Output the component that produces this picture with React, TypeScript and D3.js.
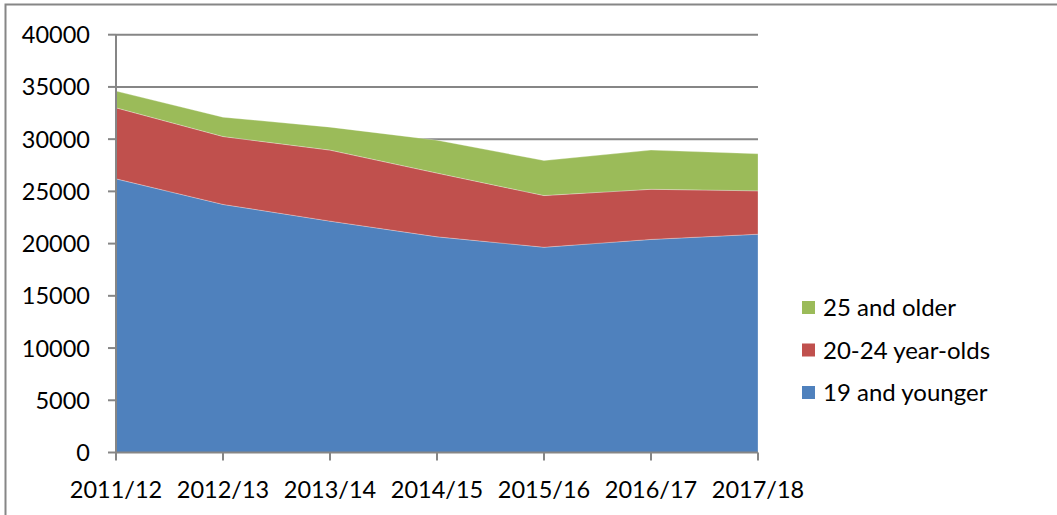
import React, { useEffect, useRef } from 'react'
import * as d3 from 'd3'

// data
const years = ['2011/12', '2012/13', '2013/14', '2014/15', '2015/16', '2016/17', '2017/18']
const young = [26200, 23750, 22150, 20650, 19650, 20400, 20900]
const twenties = [6800, 6500, 6800, 6100, 4950, 4800, 4150]
const older = [1600, 1850, 2200, 3150, 3350, 3750, 3550]
const seriesNames = ['19 and younger', '20-24 year-olds', '25 and older']
const seriesColors = ['#4F81BD', '#C0504D', '#9BBB59']
const yTicks = [0, 5000, 10000, 15000, 20000, 25000, 30000, 35000, 40000]

const W = 1057, H = 515
const FONT = 'Lato, "Open Sans", sans-serif'

const App = () => {
  const ref = useRef<SVGSVGElement>(null)

  useEffect(() => {
    const svg = d3.select(ref.current)
    svg.selectAll('*').remove()

    const x = d3.scalePoint<string>().domain(years).range([116, 758])
    const y = d3.scaleLinear().domain([0, 40000]).range([452.5, 34.7])

    // outer chart border (only top + left visible in reference)
    svg.append('rect')
      .attr('x', 5.5).attr('y', 4.5)
      .attr('width', W + 20).attr('height', H + 20)
      .attr('fill', 'white').attr('stroke', '#868686').attr('stroke-width', 2)

    // gridlines
    svg.append('g').selectAll('line')
      .data(yTicks.filter(t => t > 0))
      .enter().append('line')
      .attr('x1', 116).attr('x2', 758)
      .attr('y1', d => y(d)).attr('y2', d => y(d))
      .attr('stroke', '#868686').attr('stroke-width', 2)

    const rows = years.map((yr, i) => ({ year: yr, s0: young[i], s1: twenties[i], s2: older[i] }))
    const stack = d3.stack<any>().keys(['s0', 's1', 's2'])
    const layers = stack(rows)

    const area = d3.area<any>()
      .x(d => x(d.data.year) as number)
      .y0(d => y(d[0]))
      .y1(d => y(d[1]))

    svg.append('g').selectAll('path')
      .data(layers)
      .enter().append('path')
      .attr('d', d => area(d))
      .attr('fill', (d, i) => seriesColors[i])
      .attr('stroke', 'rgba(255,255,255,0.35)')
      .attr('stroke-width', 0.8)

    // y axis
    const yAxis = svg.append('g')
    yAxis.append('line')
      .attr('x1', 116).attr('x2', 116).attr('y1', y(40000)).attr('y2', y(0))
      .attr('stroke', '#868686').attr('stroke-width', 2)
    yAxis.selectAll('line.tick')
      .data(yTicks).enter().append('line')
      .attr('class', 'tick')
      .attr('x1', 108).attr('x2', 116)
      .attr('y1', d => y(d)).attr('y2', d => y(d))
      .attr('stroke', '#868686').attr('stroke-width', 2)
    yAxis.selectAll('text')
      .data(yTicks).enter().append('text')
      .attr('x', 90).attr('y', d => y(d))
      .attr('dy', '0.36em')
      .attr('text-anchor', 'end')
      .style('font-family', FONT).style('font-size', '23.5px')
      .attr('fill', '#000')
      .text(d => String(d))

    // x axis
    const xAxis = svg.append('g')
    xAxis.append('line')
      .attr('x1', 116).attr('x2', 758).attr('y1', y(0)).attr('y2', y(0))
      .attr('stroke', '#868686').attr('stroke-width', 2)
    xAxis.selectAll('line.tick')
      .data(years).enter().append('line')
      .attr('class', 'tick')
      .attr('x1', d => x(d) as number).attr('x2', d => x(d) as number)
      .attr('y1', y(0)).attr('y2', y(0) + 8)
      .attr('stroke', '#868686').attr('stroke-width', 2)
    xAxis.selectAll('text')
      .data(years).enter().append('text')
      .attr('x', d => x(d) as number).attr('y', 498)
      .attr('text-anchor', 'middle')
      .style('font-family', FONT).style('font-size', '23.5px')
      .attr('fill', '#000')
      .text(d => d)

    // legend, top entry is the top layer
    const legendOrder = [2, 1, 0]
    const leg = svg.append('g')
    legendOrder.forEach((si, k) => {
      const ly = 301 + k * 42.5
      leg.append('rect')
        .attr('x', 802).attr('y', ly)
        .attr('width', 13).attr('height', 13)
        .attr('fill', seriesColors[si])
      leg.append('text')
        .attr('x', 823).attr('y', ly + 6.5)
        .attr('dy', '0.36em')
        .style('font-family', FONT).style('font-size', '24px')
        .attr('fill', '#000')
        .text(seriesNames[si])
    })
  }, [])

  return (
    <svg ref={ref} width={W} height={H}
      style={{ position: 'absolute', left: 0, top: 0, background: 'white' }} />
  )
}

export default App
